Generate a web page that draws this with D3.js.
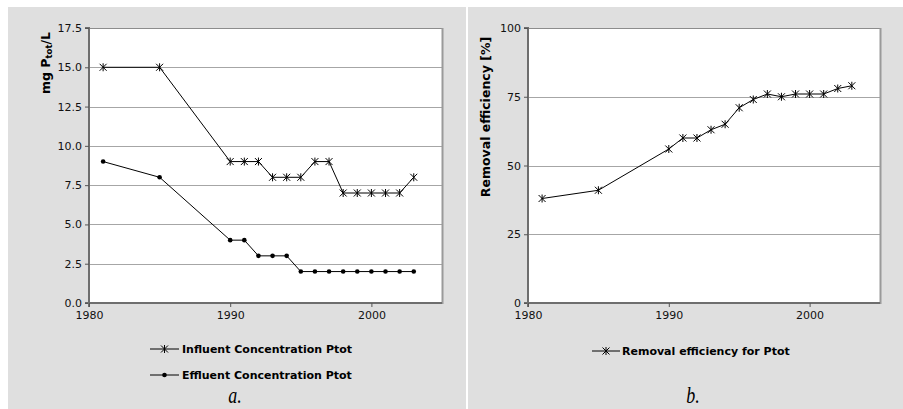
<!DOCTYPE html>
<html><head><meta charset="utf-8">
<script src="https://cdn.jsdelivr.net/npm/d3@7"></script>
<style>html,body{margin:0;padding:0;background:#fff;}svg{display:block;}</style>
</head><body>
<svg id="chart" width="903" height="409"></svg>
<script>
const years = [1981, 1985, 1990, 1991, 1992, 1993, 1994, 1995, 1996, 1997, 1998, 1999, 2000, 2001, 2002, 2003];
const influent = [15, 15, 9, 9, 9, 8, 8, 8, 9, 9, 7, 7, 7, 7, 7, 8];
const effluent = [9, 8, 4, 4, 3, 3, 3, 2, 2, 2, 2, 2, 2, 2, 2, 2];
const removal = [38, 41, 56, 60, 60, 63, 65, 71, 74, 76, 75, 76, 76, 76, 78, 79];
const xTicks = [1980, 1990, 2000];
const yTicksA = [0, 2.5, 5, 7.5, 10, 12.5, 15, 17.5];
const yTicksB = [0, 25, 50, 75, 100];
const legendA = ["Influent Concentration Ptot", "Effluent Concentration Ptot"];
const legendB = ["Removal efficiency for Ptot"];
const captions = ["a.", "b."];

const svg = d3.select("#chart");
const FONT = "'DejaVu Sans', Verdana, sans-serif";
const PANEL = "#dfdfdf";

function star(g, x, y) {
  const s = 3.5;
  g.append("path")
    .attr("d", `M${x - s},${y - s}L${x + s},${y + s}M${x - s},${y + s}L${x + s},${y - s}M${x},${y - s - 0.5}L${x},${y + s + 0.5}`)
    .attr("stroke", "#000").attr("stroke-width", 1).attr("fill", "none");
}
function dot(g, x, y) {
  g.append("circle").attr("cx", x).attr("cy", y).attr("r", 2.3).attr("fill", "#000");
}

function panel(opt) {
  const g = svg.append("g");
  g.append("rect").attr("x", opt.px).attr("y", 7).attr("width", opt.pw).attr("height", 402).attr("fill", PANEL);
  const x = d3.scaleLinear().domain([1980, 2005]).range([opt.left, opt.right]);
  const y = d3.scaleLinear().domain(opt.ydom).range([303, 28]);
  g.append("rect").attr("x", opt.left).attr("y", 28).attr("width", opt.right - opt.left).attr("height", 275).attr("fill", "#fff");
  g.append("g").selectAll("line").data(opt.yTicks.filter(d => d !== opt.ydom[0] && d !== opt.ydom[1]))
    .join("line").attr("x1", opt.left).attr("x2", opt.right)
    .attr("y1", d => Math.round(y(d)) + 0.5).attr("y2", d => Math.round(y(d)) + 0.5)
    .attr("stroke", "#a6a6a6").attr("stroke-width", 1);
  g.append("line").attr("x1", opt.left).attr("x2", opt.right + 1).attr("y1", 28.5).attr("y2", 28.5).attr("stroke", "#8c8c8c");
  g.append("line").attr("x1", opt.right + 0.5).attr("x2", opt.right + 0.5).attr("y1", 28).attr("y2", 304).attr("stroke", "#9a9a9a").attr("stroke-width", 2);
  const ya = d3.axisLeft(y).tickValues(opt.yTicks).tickSize(4).tickPadding(3).tickFormat(opt.yfmt);
  const ay = g.append("g").attr("transform", `translate(${opt.left},0)`).call(ya);
  const xa = d3.axisBottom(x).tickValues(xTicks).tickSize(4).tickPadding(4).tickFormat(d3.format("d"));
  const ax = g.append("g").attr("transform", `translate(0,303)`).call(xa);
  [ay, ax].forEach(a => {
    a.select(".domain").attr("stroke", "#6e6e6e").attr("stroke-width", 2);
    a.selectAll(".tick line").attr("stroke", "#555");
    a.selectAll("text").attr("font-family", FONT).attr("font-size", 11).attr("fill", "#111");
  });
  ay.select(".domain").attr("d", `M-4,28H0V303H-4`);
  ax.select(".domain").attr("d", `M${opt.left},4V0H${opt.right}`);
  return { g, x, y };
}

// Panel a
const A = panel({ px: 8, pw: 458, left: 89, right: 442, ydom: [0, 17.5], yTicks: yTicksA, yfmt: d3.format(".1f") });
const lineA = d3.line().x((d, i) => A.x(years[i])).y(d => A.y(d));
A.g.append("path").datum(influent).attr("d", lineA).attr("fill", "none").attr("stroke", "#000").attr("stroke-width", 1);
A.g.append("path").datum(effluent).attr("d", lineA).attr("fill", "none").attr("stroke", "#000").attr("stroke-width", 1);
influent.forEach((v, i) => star(A.g, A.x(years[i]), A.y(v)));
effluent.forEach((v, i) => dot(A.g, A.x(years[i]), A.y(v)));
const tA = A.g.append("text").attr("transform", "translate(50,63) rotate(-90)").attr("text-anchor", "middle")
  .attr("font-family", FONT).attr("font-size", 12.5).attr("font-weight", "bold");
tA.append("tspan").text("mg P");
tA.append("tspan").attr("font-size", 8.5).attr("dy", 2).text("tot");
tA.append("tspan").attr("dy", -2).text("/L");
[0, 1].forEach(i => {
  const ly = 349 + i * 26;
  A.g.append("line").attr("x1", 150).attr("x2", 179).attr("y1", ly).attr("y2", ly).attr("stroke", "#000");
  if (i === 0) star(A.g, 164.5, ly); else dot(A.g, 164.5, ly);
  A.g.append("text").attr("x", 182).attr("y", ly + 4).attr("font-family", FONT).attr("font-size", 11)
    .attr("font-weight", "bold").text(legendA[i]);
});
A.g.append("text").attr("transform", "translate(235,403) scale(0.75,1)").attr("text-anchor", "middle")
  .attr("font-family", "'Liberation Serif', serif").attr("font-style", "italic").attr("font-size", 24).text(captions[0]);

// Panel b
const B = panel({ px: 468, pw: 435, left: 528, right: 880, ydom: [0, 100], yTicks: yTicksB, yfmt: d3.format("d") });
const lineB = d3.line().x((d, i) => B.x(years[i])).y(d => B.y(d));
B.g.append("path").datum(removal).attr("d", lineB).attr("fill", "none").attr("stroke", "#000").attr("stroke-width", 1);
removal.forEach((v, i) => star(B.g, B.x(years[i]), B.y(v)));
B.g.append("text").attr("transform", "translate(490,117) rotate(-90)").attr("text-anchor", "middle")
  .attr("font-family", FONT).attr("font-size", 12.5).attr("font-weight", "bold").text("Removal efficiency [%]");
{
  const ly = 351;
  B.g.append("line").attr("x1", 592).attr("x2", 620).attr("y1", ly).attr("y2", ly).attr("stroke", "#000");
  star(B.g, 606, ly);
  B.g.append("text").attr("x", 622).attr("y", ly + 4).attr("font-family", FONT).attr("font-size", 11)
    .attr("font-weight", "bold").text(legendB[0]);
}
B.g.append("text").attr("transform", "translate(693,403) scale(0.75,1)").attr("text-anchor", "middle")
  .attr("font-family", "'Liberation Serif', serif").attr("font-style", "italic").attr("font-size", 24).text(captions[1]);
</script>
</body></html>
